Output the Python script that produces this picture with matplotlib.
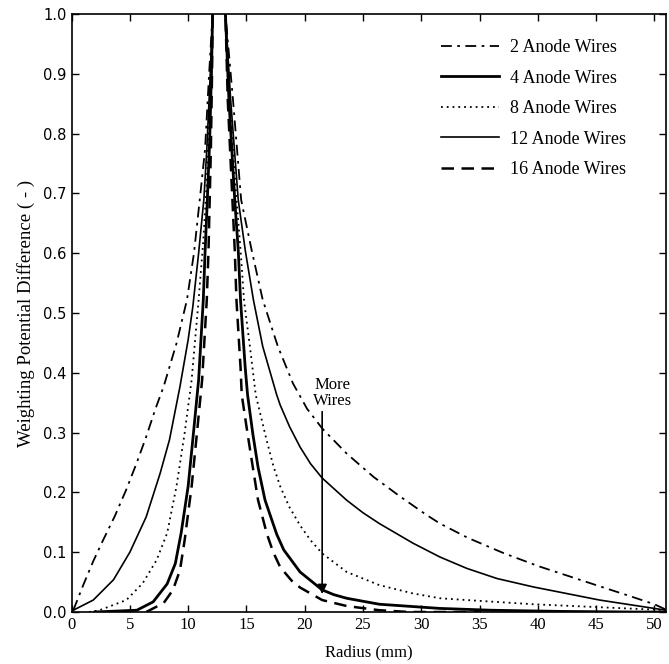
import matplotlib
matplotlib.use("Agg")
import matplotlib.pyplot as plt

# weighting potential curves (radius in mm, value -)
# each series: left branch, a point above the frame at the peak, right branch
x_2 = [0.15, 1.0, 1.86, 2.7, 3.7, 4.7, 5.6, 6.4, 7.2, 7.9, 9.0, 9.9, 10.5,
       11.0, 11.45, 11.8, 12.1, 12.65,
       13.2, 13.85, 14.55, 15.45, 16.4, 17.7, 19.0, 20.2, 21.5, 23.6, 25.9,
       28.2, 30.4, 31.6, 34.0, 37.0, 40.0, 45.0, 48.0, 50.0, 51.0]
y_2 = [0.003, 0.045, 0.085, 0.12, 0.16, 0.205, 0.25, 0.293, 0.34, 0.377,
       0.449, 0.522, 0.6, 0.69, 0.773, 0.9, 1.0, 1.3,
       1.0, 0.856, 0.689, 0.605, 0.522, 0.444, 0.382, 0.34, 0.307, 0.265,
       0.226, 0.193, 0.163, 0.148, 0.124, 0.099, 0.077, 0.045, 0.026, 0.013,
       0.004]

x_4 = [2.0, 5.6, 7.0, 8.2, 8.9, 9.4, 10.0, 10.4, 10.9, 11.3, 11.45, 11.65,
       11.85, 12.0, 12.1, 12.65,
       13.2, 13.5, 14.0, 14.3, 14.5, 14.9, 15.1, 15.55, 16.0, 16.6, 17.6,
       18.2, 19.6, 21.5, 22.5, 23.6, 26.4, 31.6, 36.0, 42.0, 48.0, 51.0]
y_4 = [0.0, 0.003, 0.017, 0.047, 0.081, 0.132, 0.21, 0.288, 0.388, 0.522,
       0.6, 0.69, 0.79, 0.9, 1.0, 1.3,
       1.0, 0.856, 0.689, 0.605, 0.52, 0.408, 0.363, 0.298, 0.242, 0.187,
       0.13, 0.104, 0.067, 0.037, 0.029, 0.023, 0.013, 0.006, 0.003, 0.001,
       0.0, 0.0]

x_8 = [1.5, 2.4, 4.7, 6.1, 7.3, 8.2, 9.0, 9.7, 10.3, 10.9, 11.3, 11.6,
       11.95, 12.1, 12.65,
       13.2, 13.55, 14.15, 14.5, 14.8, 15.3, 15.8, 16.7, 17.3, 17.9, 18.7,
       19.6, 20.5, 21.5, 23.6, 26.4, 29.3, 31.6, 33.9, 39.6, 45.3, 50.0,
       51.0]
y_8 = [0.0, 0.003, 0.02, 0.048, 0.087, 0.132, 0.21, 0.299, 0.388, 0.522,
       0.62, 0.72, 0.9, 1.0, 1.3,
       1.0, 0.856, 0.689, 0.605, 0.52, 0.444, 0.363, 0.29, 0.245, 0.21,
       0.175, 0.145, 0.12, 0.098, 0.067, 0.045, 0.031, 0.023, 0.02, 0.013,
       0.008, 0.004, 0.003]

x_12 = [0.15, 1.86, 3.6, 5.0, 6.4, 7.6, 8.4, 9.3, 10.0, 10.4, 10.9, 11.35,
        11.6, 11.9, 12.1, 12.65,
        13.2, 13.65, 14.3, 14.9, 15.6, 16.4, 17.6, 17.9, 18.7, 19.6, 20.5,
        21.5, 23.6, 25.0, 26.4, 29.3, 31.6, 33.9, 36.5, 39.6, 45.3, 50.0,
        51.0]
y_12 = [0.003, 0.02, 0.054, 0.1, 0.159, 0.232, 0.288, 0.377, 0.455,
        0.51, 0.6, 0.69, 0.773, 0.9, 1.0, 1.3,
        1.0, 0.856, 0.689, 0.605, 0.522, 0.444, 0.363, 0.346, 0.31, 0.276,
        0.248, 0.224, 0.187, 0.166, 0.148, 0.115, 0.092, 0.073, 0.056,
        0.042, 0.02, 0.006, 0.003]

x_16 = [6.4, 7.9, 8.7, 9.3, 9.7, 10.3, 10.7, 11.2, 11.6, 11.75, 11.95,
        12.05, 12.1, 12.65,
        13.2, 13.4, 13.8, 14.0, 14.15, 14.5, 14.6, 15.1, 15.55, 16.0, 16.75,
        17.3, 17.9, 18.9, 19.6, 21.5, 23.6, 26.4, 29.0, 35.0]
y_16 = [0.0, 0.015, 0.037, 0.07, 0.12, 0.21, 0.288, 0.388, 0.522, 0.605,
        0.773, 0.9, 1.0, 1.3,
        1.0, 0.856, 0.689, 0.605, 0.52, 0.408, 0.363, 0.298, 0.242, 0.187,
        0.131, 0.1, 0.075, 0.052, 0.041, 0.02, 0.01, 0.003, 0.0, 0.0]

labels = ["2 Anode Wires", "4 Anode Wires", "8 Anode Wires",
          "12 Anode Wires", "16 Anode Wires"]

serif = "Liberation Serif"

fig = plt.figure(figsize=(6.69, 6.64), dpi=100)
ax = fig.add_axes([0.107, 0.0783, 0.8885, 0.9007])

ax.plot(x_2, y_2, color="k", lw=1.3, linestyle=(0, (6, 3, 1.5, 3)), label=labels[0])
ax.plot(x_4, y_4, color="k", lw=2.0, linestyle="-", label=labels[1])
ax.plot(x_8, y_8, color="k", lw=1.3, linestyle=(0, (1, 2.2)), label=labels[2])
ax.plot(x_12, y_12, color="k", lw=1.2, linestyle="-", label=labels[3])
ax.plot(x_16, y_16, color="k", lw=1.8, linestyle=(0, (5, 3)), label=labels[4])

# arrow: "More Wires"
ax.annotate("", xy=(21.5, 0.03), xytext=(21.5, 0.335),
            arrowprops=dict(arrowstyle="-|>", color="k", lw=1.2,
                            mutation_scale=14, shrinkA=0, shrinkB=0))
ax.text(22.4, 0.34, "More\nWires", ha="center", va="bottom",
        family=serif, fontsize=12, linespacing=1.0)

ax.set_xlim(0, 51)
ax.set_ylim(0, 1)
ax.set_xticks(range(0, 51, 5))
ax.set_yticks([i / 10 for i in range(11)])
ax.set_yticklabels(["%.1f" % (i / 10) for i in range(11)])

ax.tick_params(direction="in", top=True, right=True, length=5, width=1)
for t in ax.get_xticklabels():
    t.set_family(serif)
    t.set_fontsize(12)
for t in ax.get_yticklabels():
    t.set_family("DejaVu Sans")
    t.set_fontsize(10.5)
for s in ax.spines.values():
    s.set_linewidth(1.2)

ax.set_xlabel("Radius (mm)", family=serif, fontsize=12, labelpad=8)
ax.set_ylabel("Weighting Potential Difference ( - )", family=serif,
              fontsize=13.5, labelpad=6)

leg = ax.legend(loc="upper right", frameon=False, handlelength=3.2,
                handletextpad=0.6, labelspacing=0.75,
                prop={"family": serif, "size": 13},
                bbox_to_anchor=(0.96, 0.985))

fig.savefig("out.png", dpi=100)
